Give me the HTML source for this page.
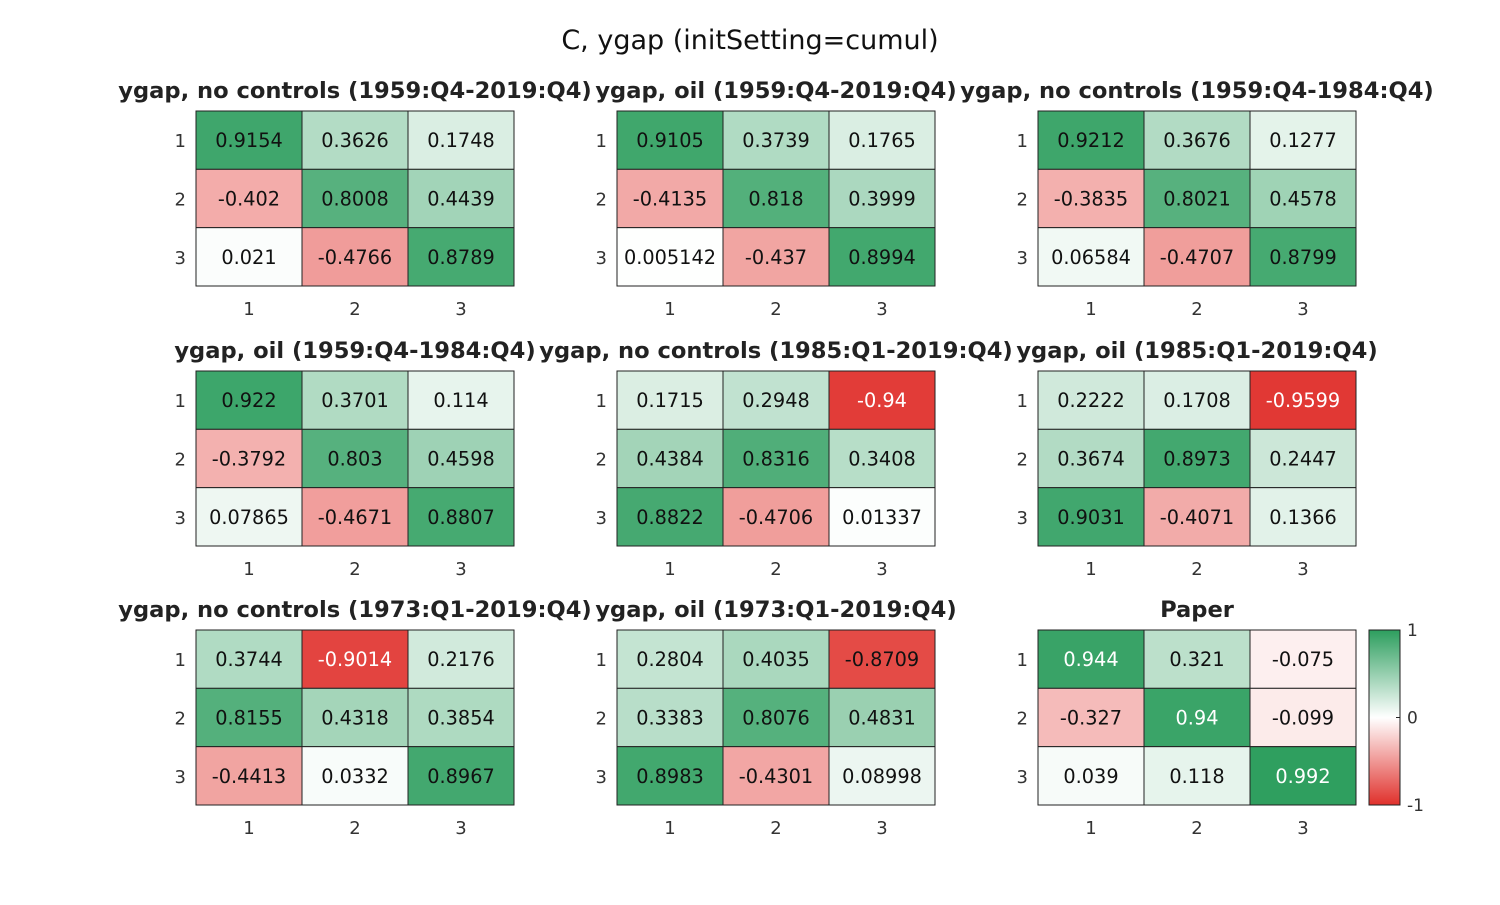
<!DOCTYPE html>
<html><head><meta charset="utf-8"><style>
body{margin:0;background:#fff;}
svg text{font-family:"DejaVu Sans","Liberation Sans",sans-serif;}
</style></head><body>
<svg id="fig" width="1500" height="900">
<text x="750" y="49" font-size="27" text-anchor="middle" fill="#111">C, ygap (initSetting=cumul)</text>
</svg>
<script>
const titles=["ygap, no controls (1959:Q4-2019:Q4)","ygap, oil (1959:Q4-2019:Q4)","ygap, no controls (1959:Q4-1984:Q4)","ygap, oil (1959:Q4-1984:Q4)","ygap, no controls (1985:Q1-2019:Q4)","ygap, oil (1985:Q1-2019:Q4)","ygap, no controls (1973:Q1-2019:Q4)","ygap, oil (1973:Q1-2019:Q4)","Paper"];
const labels=[
["0.9154","0.3626","0.1748","-0.402","0.8008","0.4439","0.021","-0.4766","0.8789"],
["0.9105","0.3739","0.1765","-0.4135","0.818","0.3999","0.005142","-0.437","0.8994"],
["0.9212","0.3676","0.1277","-0.3835","0.8021","0.4578","0.06584","-0.4707","0.8799"],
["0.922","0.3701","0.114","-0.3792","0.803","0.4598","0.07865","-0.4671","0.8807"],
["0.1715","0.2948","-0.94","0.4384","0.8316","0.3408","0.8822","-0.4706","0.01337"],
["0.2222","0.1708","-0.9599","0.3674","0.8973","0.2447","0.9031","-0.4071","0.1366"],
["0.3744","-0.9014","0.2176","0.8155","0.4318","0.3854","-0.4413","0.0332","0.8967"],
["0.2804","0.4035","-0.8709","0.3383","0.8076","0.4831","0.8983","-0.4301","0.08998"],
["0.944","0.321","-0.075","-0.327","0.94","-0.099","0.039","0.118","0.992"]];
const ticks=["1","2","3"];
const cbTicks=[1,0,-1];
const NS="http://www.w3.org/2000/svg";
const svg=document.getElementById('fig');
const G=[45,158,94],R=[224,48,43];
function col(v){const c=v>=0?G:R;const t=Math.min(1,Math.abs(v));return `rgb(${c.map(x=>Math.round(255+(x-255)*t)).join(',')})`;}
function mk(tag,a,p){const e=document.createElementNS(NS,tag);for(const k in a)e.setAttribute(k,a[k]);(p||svg).appendChild(e);return e;}
const px=[196,617,1038],py=[111,371,630],W=318,H=175,cw=W/3,ch=H/3;
labels.forEach((arr,pi)=>{
  const x0=px[pi%3],y0=py[Math.floor(pi/3)];
  const g=mk('g',{});
  
  
  const t=mk('text',{x:x0+W/2,y:y0-13,'font-size':22.6,'font-weight':'bold','text-anchor':'middle',fill:'#222'},g);
  t.textContent=titles[pi];
  
  
  arr.forEach((s,i)=>{
    const v=parseFloat(s),r=Math.floor(i/3),c=i%3;
    const rc=mk('rect',{x:x0+c*cw,y:y0+r*ch,width:cw,height:ch,fill:col(v),stroke:'#222','stroke-width':1},g);
    
    
    const tx=mk('text',{x:x0+c*cw+cw/2,y:y0+r*ch+ch/2+7,'font-size':19.3,'text-anchor':'middle',fill:(v>0.93||v<-0.9)?'#fff':'#111'},g);
    tx.textContent=s;
    
    
  });
  ticks.forEach((k,i)=>{
    const a=mk('text',{x:x0-10,y:y0+i*ch+ch/2+7,'font-size':18,'text-anchor':'end',fill:'#333'},g);
    a.textContent=k;
    
    
    const b=mk('text',{x:x0+i*cw+cw/2,y:y0+H+29,'font-size':18,'text-anchor':'middle',fill:'#333'},g);
    b.textContent=k;
    
    
  });
});
const cx=1369,cy=630,cwid=31,chh=175;
const defs=mk('defs',{});
const lg=mk('linearGradient',{id:'cb',x1:0,y1:0,x2:0,y2:1},defs);
[1,0,-1].forEach((v,i)=>mk('stop',{offset:i*50+'%','stop-color':col(v)},lg));
const cb=mk('rect',{x:cx,y:cy,width:cwid,height:chh,fill:'url(#cb)',stroke:'#222','stroke-width':1});


cbTicks.forEach(v=>{
  const y=cy+(1-v)/2*chh;
  mk('line',{x1:cx+cwid-4,x2:cx+cwid,y1:y,y2:y,stroke:'#222'});
  const t=mk('text',{x:cx+cwid+7,y:y+6,'font-size':17,fill:'#333'});
  t.textContent=String(v);
  
  
});
</script>
</body></html>
